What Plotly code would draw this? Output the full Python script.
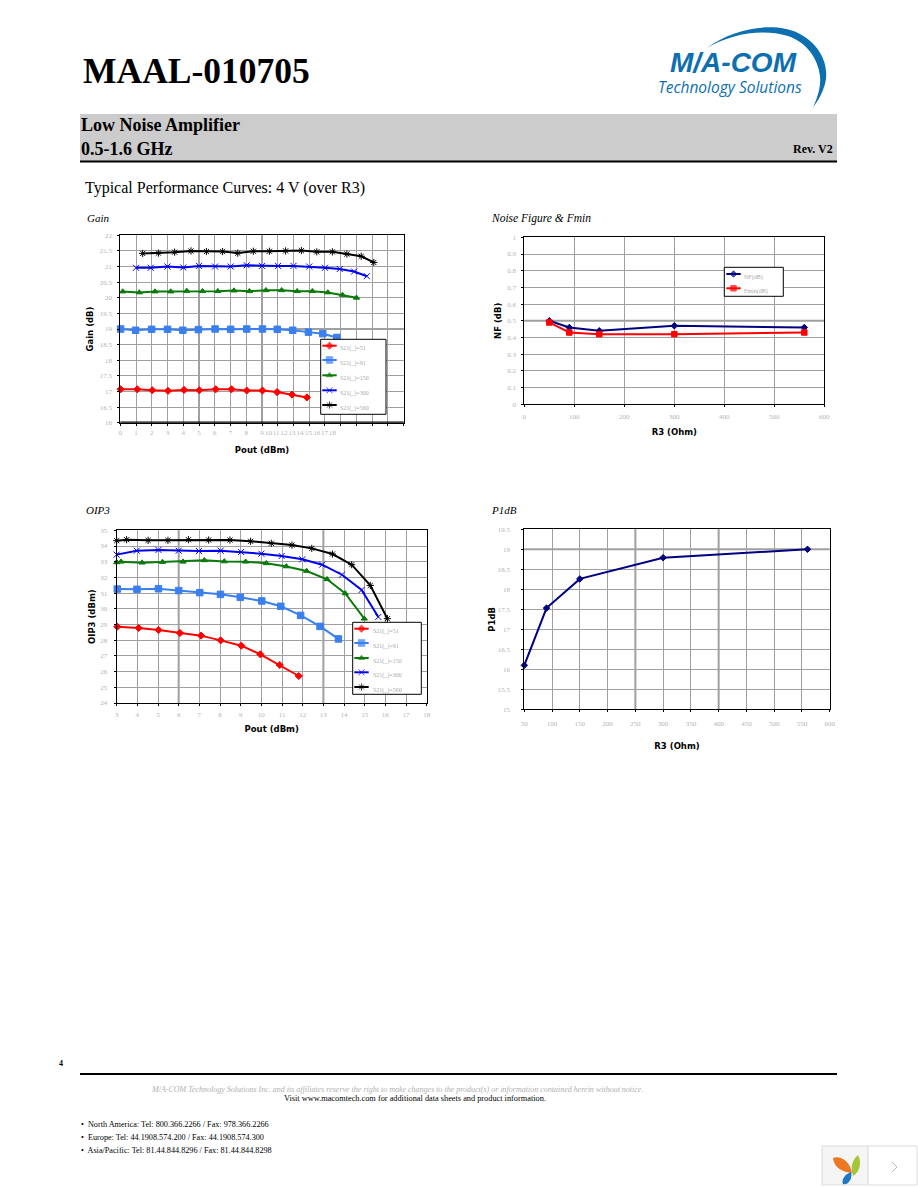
import plotly.graph_objects as go

# ---------- data ----------
R3_LABELS = ["S21(_)=51", "S21(_)=91", "S21(_)=150", "S21(_)=300", "S21(_)=560"]
COLORS = ["#ff0000", "#3a7ff0", "#0a7a0a", "#0000ee", "#000000"]
SYMBOLS = ["diamond", "square", "triangle-up", "x-thin", "asterisk"]
SIZES = [5.5, 6.5, 5.5, 6, 6]

gain_x = [
    [0.02, 1.08, 2.03, 3.03, 4.05, 5.02, 6.06, 7.06, 8.03, 9.03, 9.96, 10.9, 11.85],
    [0.02, 0.97, 1.99, 3.0, 3.97, 4.96, 6.02, 7.01, 8.03, 9.03, 9.97, 10.95, 11.95, 12.86, 13.75],
    [0.15, 1.21, 2.2, 3.2, 4.22, 5.22, 6.19, 7.22, 8.2, 9.25, 10.25, 11.23, 12.2, 13.18, 14.11, 15.0],
    [1.0, 1.93, 3.0, 4.0, 5.0, 6.02, 7.01, 8.03, 9.0, 10.02, 11.0, 12.0, 13.0, 13.94, 14.85, 15.66],
    [1.42, 2.42, 3.45, 4.49, 5.47, 6.5, 7.46, 8.45, 9.47, 10.5, 11.5, 12.48, 13.47, 14.39, 15.3, 16.1],
]
gain_y = [
    [17.07, 17.07, 17.04, 17.02, 17.05, 17.04, 17.07, 17.07, 17.03, 17.03, 16.98, 16.9, 16.81],
    [19.0, 18.96, 18.99, 18.99, 18.96, 18.98, 19.0, 18.99, 19.0, 19.0, 18.99, 18.96, 18.9, 18.85, 18.73],
    [20.2, 20.17, 20.2, 20.2, 20.22, 20.21, 20.21, 20.23, 20.21, 20.24, 20.24, 20.21, 20.21, 20.17, 20.09, 20.0],
    [20.96, 20.96, 21.0, 20.97, 21.02, 21.0, 21.0, 21.04, 21.02, 21.02, 21.02, 21.0, 20.96, 20.92, 20.84, 20.69],
    [21.42, 21.43, 21.46, 21.5, 21.48, 21.48, 21.43, 21.49, 21.49, 21.5, 21.51, 21.47, 21.47, 21.4, 21.33, 21.13],
]
gain_tick_pos = [0, 1, 2, 3, 4, 5, 6, 7, 8, 9, 9.42, 9.9, 10.4, 10.9, 11.42, 11.95, 12.48, 12.97, 13.47]
gain_tick_txt = [str(i) for i in range(19)]

oip_x = [
    [3.03, 4.06, 5.03, 6.06, 7.08, 8.03, 9.03, 9.95, 10.89, 11.81],
    [3.03, 3.98, 5.02, 6.0, 7.02, 8.02, 8.98, 10.02, 10.94, 11.9, 12.84, 13.73],
    [3.0, 3.21, 4.23, 5.21, 6.21, 7.24, 8.21, 9.24, 10.24, 11.21, 12.19, 13.18, 14.06, 14.98],
    [3.0, 3.97, 5.02, 6.0, 6.98, 8.03, 9.02, 10.0, 10.98, 11.98, 12.94, 13.9, 14.85, 15.66],
    [3.0, 3.48, 4.52, 5.48, 6.47, 7.45, 8.48, 9.48, 10.48, 11.48, 12.44, 13.44, 14.37, 15.27, 16.1],
]
oip_y = [
    [28.86, 28.78, 28.65, 28.46, 28.29, 27.99, 27.65, 27.1, 26.42, 25.72],
    [31.26, 31.24, 31.28, 31.16, 31.03, 30.92, 30.73, 30.5, 30.16, 29.58, 28.88, 28.08],
    [32.96, 33.0, 32.94, 32.98, 33.0, 33.09, 33.02, 33.0, 32.9, 32.7, 32.41, 31.88, 30.98, 29.37],
    [33.45, 33.7, 33.75, 33.7, 33.68, 33.7, 33.62, 33.51, 33.36, 33.15, 32.81, 32.17, 31.2, 29.48],
    [34.34, 34.4, 34.36, 34.36, 34.4, 34.38, 34.38, 34.3, 34.17, 34.06, 33.85, 33.49, 32.81, 31.49, 29.37],
]

r3 = [50, 90, 150, 300, 560]
nf = [0.50, 0.46, 0.44, 0.47, 0.46]
fmin = [0.49, 0.43, 0.42, 0.42, 0.43]
p1db = [16.1, 17.53, 18.26, 18.79, 19.0]

W, H = 918, 1188
GRID = "#a0a0a0"
TICK = "#b4b4b4"
SERIF = "Liberation Serif"
SANS = "DejaVu Sans"

fig = go.Figure()
shapes, annos = [], []


def ty(y):
    return [1 - y[1] / H, 1 - y[0] / H]


def setup(n, box, xr, yr, xtitle, ytitle, xstand, ystand, xlab, ylab, xdtick=None, ydtick=None,
          xticks=None, xminor=None):
    s = "" if n == 1 else str(n)
    x0, x1, y0, y1 = box
    xa = dict(domain=[x0 / W, x1 / W], range=xr, showgrid=xminor is None, gridcolor=GRID, gridwidth=1,
              showline=True, linecolor="black", linewidth=1, mirror=True, zeroline=False, automargin=False,
              ticks="outside", ticklen=2, tickcolor="black", tickwidth=1, tickangle=0, ticklabelstandoff=xlab,
              tickfont=dict(family=SERIF, size=7, color=TICK), anchor="y" + s,
              title=dict(text=xtitle, standoff=xstand, font=dict(family=SANS, size=8.5, color="black", weight="bold")))
    if xticks:
        xa.update(tickmode="array", tickvals=xticks[0], ticktext=xticks[1], ticks="")
    else:
        xa.update(dtick=xdtick, tick0=xr[0])
    if xminor:
        xa["minor"] = dict(dtick=xminor, tick0=xr[0], showgrid=True, gridcolor=GRID, gridwidth=1,
                           ticks="outside", ticklen=2, tickcolor="black")
    ya = dict(domain=ty((y0, y1)), range=yr, showgrid=True, gridcolor=GRID, gridwidth=1, dtick=ydtick, tick0=yr[0],
              showline=True, linecolor="black", linewidth=1, mirror=True, zeroline=False, automargin=False,
              ticks="outside", ticklen=2, tickcolor="black", tickwidth=1, ticklabelstandoff=ylab,
              tickfont=dict(family=SERIF, size=7, color=TICK), anchor="x" + s,
              title=dict(text=ytitle, standoff=ystand, font=dict(family=SANS, size=8.5, color="black", weight="bold")))
    fig.update_layout({f"xaxis{s}": xa, f"yaxis{s}": ya})


setup(1, (120.3, 403.7, 235.3, 422.7), [0, 18], [16, 22], "Pout (dBm)", "Gain (dB)", 10, 4, 3, 4,
      ydtick=0.5, xticks=(gain_tick_pos, gain_tick_txt), xminor=1)
setup(2, (524.3, 824.3, 237.3, 404.3), [0, 600], [0, 1], "R3 (Ohm)", "NF (dB)", 9, 4, 3, 4, xdtick=100, ydtick=0.1)
setup(3, (116.7, 426.7, 530.3, 703), [3, 18], [24, 35], "Pout (dBm)", "OIP3 (dBm)", 7, 3, 3, 5, xdtick=1, ydtick=1)
setup(4, (524.3, 829.7, 529.3, 709.3), [50, 600], [15, 19.5], "R3 (Ohm)", "P1dB", 16, 0, 5, 10, xdtick=50, ydtick=0.5)


def thick(s, axis, v, color="#a0a0a0", width=2, layer="below"):
    if axis == "x":
        shapes.append(dict(type="line", xref=f"x{s}", yref=f"y{s} domain", x0=v, x1=v, y0=0, y1=1,
                           line=dict(color=color, width=width), layer=layer))
    else:
        shapes.append(dict(type="line", yref=f"y{s}", xref=f"x{s} domain", y0=v, y1=v, x0=0, x1=1,
                           line=dict(color=color, width=width), layer=layer))


for a, v in [("x", 5), ("x", 9), ("y", 19)]:
    thick("", a, v)
thick("", "y", 16, "black", 2.5, "above")
thick(2, "y", 0.5)
for a, v in [("x", 6), ("x", 13)]:
    thick(3, a, v)
for a, v in [("x", 250), ("x", 400), ("y", 19)]:
    thick(4, a, v)


def line_trace(x, y, name, color, sym, size, s, width=2):
    marker = dict(color=color, symbol=sym, size=size, line=dict(color=color, width=1))
    fig.add_trace(go.Scatter(x=x, y=y, name=name, mode="lines+markers", xaxis=f"x{s}", yaxis=f"y{s}",
                             line=dict(color=color, width=width), marker=marker, showlegend=False, cliponaxis=False))


for i in range(5):
    line_trace(gain_x[i], gain_y[i], R3_LABELS[i], COLORS[i], SYMBOLS[i], SIZES[i], "")
for i in range(5):
    line_trace(oip_x[i], oip_y[i], R3_LABELS[i], COLORS[i], SYMBOLS[i], SIZES[i], 3)
line_trace(r3, nf, "NF(dB)", "#000080", "diamond", 5, 2)
line_trace(r3, fmin, "Fmin(dB)", "#ff0000", "square", 5.5, 2)
line_trace(r3, p1db, "P1dB", "#000080", "diamond", 5, 4)

# overlay in page pixels: hand-drawn legend keys sit above the traces
fig.update_layout(
    xaxis5=dict(domain=[0, 1], range=[0, W], visible=False, anchor="y5", fixedrange=True, automargin=False),
    yaxis5=dict(domain=[0, 1], range=[H, 0], visible=False, anchor="x5", fixedrange=True, automargin=False),
)


def legend_box(x0, x1, y0, y1, line_x0, line_x1, text_x, rows, labels, colors, symbols, sizes):
    fig.add_trace(go.Scatter(x=[x0, x1, x1, x0, x0], y=[y0, y0, y1, y1, y0], mode="lines", fill="toself",
                             fillcolor="white", line=dict(color="black", width=1), xaxis="x5", yaxis="y5",
                             showlegend=False, hoverinfo="skip"))
    for ly, lab, c, sy, sz in zip(rows, labels, colors, symbols, sizes):
        fig.add_trace(go.Scatter(x=[line_x0, (line_x0 + line_x1) / 2, line_x1], y=[ly, ly, ly], mode="lines+markers",
                                 xaxis="x5", yaxis="y5", showlegend=False, hoverinfo="skip",
                                 line=dict(color=c, width=2),
                                 marker=dict(color=c, symbol=sy, size=[0, sz, 0], line=dict(color=c, width=1))))
        annos.append(dict(xref="x5", yref="y5", x=text_x, y=ly + 3, text=lab, showarrow=False, xanchor="left",
                          font=dict(family=SERIF, size=6, color="#aaaaaa")))


legend_box(320.7, 386, 339.3, 414.3, 322.3, 336.7, 338.3, [345.7, 360, 375.3, 390.3, 405], R3_LABELS, COLORS, SYMBOLS, SIZES)
legend_box(352.7, 421.3, 622.3, 694.3, 354.3, 368.7, 371.3, [628.7, 643, 658, 672.3, 687], R3_LABELS, COLORS, SYMBOLS, SIZES)
legend_box(724.3, 783.3, 267.3, 296.3, 726.3, 740.7, 741.7, [274, 288.3], ["NF(dB)", "Fmin(dB)"], ["#000080", "#ff0000"],
           ["diamond", "square"], [5, 5.5])


def text(x, y, s, size=10, family=SERIF, color="black", anchor="left", bold=False, italic=False):
    annos.append(dict(xref="x5", yref="y5", x=x, y=y, text=s, showarrow=False, xanchor=anchor, yanchor="middle",
                      borderpad=0,
                      font=dict(family=family, size=size, color=color, weight="bold" if bold else "normal",
                                style="italic" if italic else "normal")))


def rect(x0, x1, y0, y1, fill, line=None, layer="below"):
    shapes.append(dict(type="rect", xref="x5", yref="y5", x0=x0, x1=x1, y0=y0, y1=y1, fillcolor=fill, layer=layer,
                       line=dict(color=line or fill, width=1 if line else 0)))


def path(d, fill=None, line=None, width=1):
    shapes.append(dict(type="path", xref="x5", yref="y5", path=d, fillcolor=fill or "rgba(0,0,0,0)",
                       line=dict(color=line or "rgba(0,0,0,0)", width=width), layer="above"))


# header
text(82, 71, "MAAL-010705", 35.5, bold=True)
rect(80, 837, 114, 161, "#cccccc")
rect(80, 837, 160.6, 162.6, "black")
text(80, 125, "Low Noise Amplifier", 18, bold=True)
text(80, 148.5, "0.5-1.6 GHz", 18, bold=True)
text(834, 148.5, "Rev. V2", 12, anchor="right", bold=True)
text(84, 188, "Typical Performance Curves: 4 V (over R3)", 16)

# panel captions
text(86, 218, "Gain", 11, italic=True)
text(490, 218, "Noise Figure &amp; Fmin", 11.5, italic=True)
text(85, 510, "OIP3", 11, italic=True)
text(490, 510, "P1dB", 11, italic=True)

# logo
BLUE = "#0d6fb0"
path("M 707 48 C 735 27 775 22 798 33 C 820 44 830 65 825 84 C 822 94 818 101 813 107 C 818 97 821 86 820 76 C 818 58 806 42 788 36 C 762 28 730 34 707 48 Z", fill=BLUE)
text(669, 62, "<i>M/A-COM</i>", 28, family="Liberation Sans", color=BLUE, bold=True)
text(657, 87, "Technology Solutions", 15.5, family="Open Sans", color=BLUE, italic=True)

# footer
text(58, 1063, "4", 8, bold=True)
rect(80, 837, 1073, 1075, "black")
text(397, 1089, "M/A-COM Technology Solutions Inc. and its affiliates reserve the right to make changes to the product(s) or information contained herein without notice.",
     8, color="#b0b0b0", anchor="center", italic=True)
text(415, 1098.5, "Visit www.macomtech.com for additional data sheets and product information.", 8.3, anchor="center")
text(80, 1124, "•  North America: Tel: 800.366.2266 / Fax: 978.366.2266", 8.2)
text(80, 1137, "•  Europe: Tel: 44.1908.574.200 / Fax: 44.1908.574.300", 8.2)
text(80, 1150, "•  Asia/Pacific: Tel: 81.44.844.8296 / Fax: 81.44.844.8298", 8.2)

# viewer widget
rect(822, 868, 1146, 1185, "#f5f5f5", "#dddddd")
rect(868, 917, 1146, 1185, "white", "#dddddd")
path("M 833 1158 C 839 1155 850 1160 852 1173 C 843 1172 834 1168 833 1158 Z", fill="#ee7722")
path("M 858 1155 C 862 1162 860 1172 853 1176 C 850 1168 852 1160 858 1155 Z", fill="#a5c63b")
path("M 851 1172 C 853 1178 848 1186 843 1184 C 841 1180 845 1174 851 1172 Z", fill="#1f77c8")
path("M 892 1162 L 897 1167 L 892 1172", line="#bbbbbb")

fig.update_layout(width=W, height=H, margin=dict(l=0, r=0, t=0, b=0, pad=0, autoexpand=False),
                  paper_bgcolor="white", plot_bgcolor="rgba(0,0,0,0)",
                  shapes=shapes, annotations=annos, showlegend=False, autosize=False)
fig.write_html("out.html", config={"displayModeBar": False},
               post_script="document.body.style.margin='0';document.documentElement.style.overflow='hidden';")
